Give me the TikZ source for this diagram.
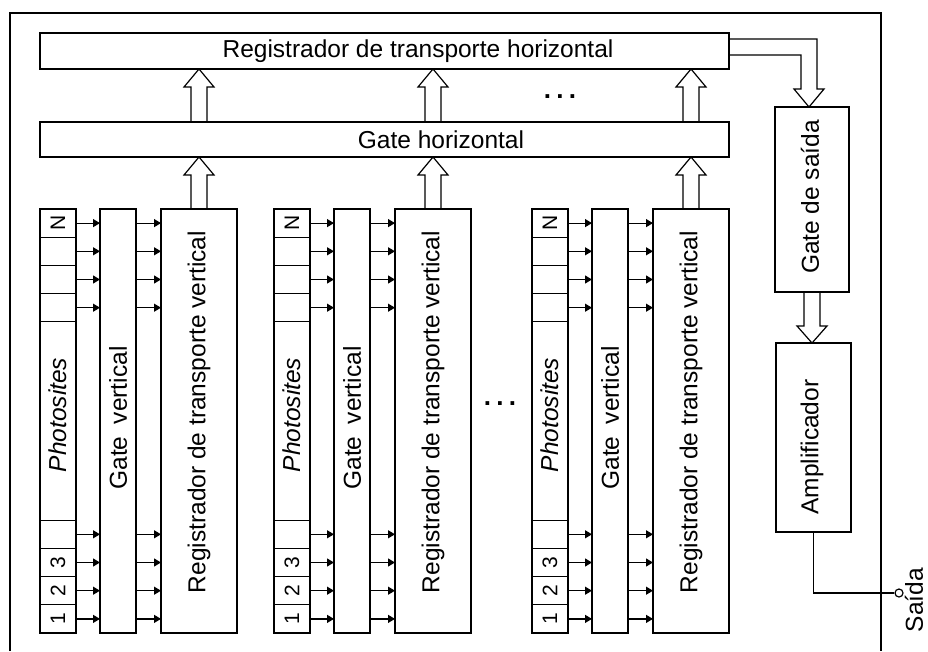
\documentclass[tikz,border=0pt]{standalone}
\usepackage{fontspec}
\setmainfont{Liberation Sans}
\usetikzlibrary{arrows.meta,calc}
\newcommand\bx[5]{\node[boxst,minimum width={((#4)-(#2))*1pt},minimum height={((#5)-(#3))*1pt}] (#1) at ({((#2)+(#4))/2},{((#3)+(#5))/2}) {};}
\newcommand\hup[2]{\draw[hol] ($(#1)+(-8,0)$) -- ($(#2)+(-8,18)$) -- ($(#2)+(-15,18)$) -- (#2) -- ($(#2)+(15,18)$) -- ($(#2)+(8,18)$) -- ($(#1)+(8,0)$);}
\newcommand\hdown[2]{\draw[hol] ($(#1)+(-8,0)$) -- ($(#2)+(-8,-17)$) -- ($(#2)+(-15,-17)$) -- (#2) -- ($(#2)+(15,-17)$) -- ($(#2)+(8,-17)$) -- ($(#1)+(8,0)$);}
\newcommand\tdots{\textbf{.\hspace{5.3pt}.\hspace{5.3pt}.}}
\begin{document}
\begin{tikzpicture}[x=1pt,y=-1pt,
  boxst/.style={draw,line width=1.2pt,inner sep=0pt,outer sep=0pt},
  vt/.style={rotate=90,font=\fontsize{24.5}{26}\selectfont,inner sep=0pt},
  ht/.style={font=\fontsize{24.5}{26}\selectfont,inner sep=0pt},
  ct/.style={rotate=90,font=\fontsize{21}{23}\selectfont,inner sep=0pt},
  sarr/.style={-{Triangle[length=7pt,width=8pt]},line width=1.2pt},
  hol/.style={line width=1.2pt,line join=miter},
  dotst/.style={font=\fontsize{26}{28}\selectfont,inner sep=0pt}]
\useasboundingbox (0,0) rectangle (928,651);
% outer frame
\draw[line width=1.2pt] (10,651) -- (10,13) -- (881,13) -- (881,651);
% horizontal registers
\bx{reg}{40}{33}{729}{69}
\bx{gh}{40}{122}{729}{157}
\node[ht] (regt) at (418,51) {Registrador de transporte horizontal};
\node[ht] (ght) at (441,140) {Gate horizontal};
\node[dotst] (dtop) at (560,97) {\tdots};
% columns
\foreach \c/\o in {1/0,2/234,3/492}{
  \bx{gv\c}{100+\o}{209}{136+\o}{633}
  \bx{rv\c}{161+\o}{209}{237+\o}{633}
  \bx{ph\c-L}{40+\o}{321.8}{76+\o}{520.2}
  \foreach \k in {0,1,2,3}{
    \bx{ph\c-t\k}{40+\o}{209+28.2*\k}{76+\o}{237.2+28.2*\k}
    \bx{ph\c-b\k}{40+\o}{520.2+28.2*\k}{76+\o}{548.4+28.2*\k}
    \draw[sarr] (ph\c-t\k.east) -- (ph\c-t\k.east -| gv\c.west);
    \draw[sarr] (ph\c-t\k.east -| gv\c.east) -- (ph\c-t\k.east -| rv\c.west);
    \draw[sarr] (ph\c-b\k.east) -- (ph\c-b\k.east -| gv\c.west);
    \draw[sarr] (ph\c-b\k.east -| gv\c.east) -- (ph\c-b\k.east -| rv\c.west);
  }
  \node[ct] (lN\c) at (ph\c-t0) {N};
  \node[ct] (l3\c) at (ph\c-b1) {3};
  \node[ct] (l2\c) at (ph\c-b2) {2};
  \node[ct] (l1\c) at (ph\c-b3) {1};
  \node[vt] (tph\c) at ($(ph\c-L.center)+(0,-6)$) {\itshape Photosites};
  \node[vt] (tgv\c) at ($(gv\c.center)+(0,-3)$) {Gate\hspace{0.5em}vertical};
  \node[vt] (trv\c) at ($(rv\c.center)+(0,-9)$) {Registrador de transporte vertical};
  \coordinate (a\c) at (gh.south -| rv\c.north);
  \hup{rv\c.north}{a\c}
  \coordinate (b\c) at (gh.north -| rv\c.north);
  \coordinate (d\c) at (reg.south -| rv\c.north);
  \hup{b\c}{d\c}
}
\node[dotst] (dmid) at (500,404) {\tdots};
% output chain
\bx{gs}{775}{107}{849}{292}
\bx{amp}{776}{343}{851}{532}
\node[vt] (gst) at (810,197) {Gate de saída};
\node[vt] (ampt) at (812,447) {Amplificador};
\coordinate (e1) at ($(reg.north east)+(0,6)$);
\coordinate (e2) at ($(reg.north east)+(0,22)$);
\coordinate (gtip) at ($(gs.north)+(-3,0)$);
\coordinate (gR) at ($(gtip)+(8,-18)$);
\coordinate (gL) at ($(gtip)+(-8,-18)$);
\draw[hol] (e1) -| (gR) -- ++(7,0) -- (gtip) -- ($(gL)+(-7,0)$) -- (gL) |- (e2);
\coordinate (atip) at (amp.north -| gs.south);
\hdown{gs.south}{atip}
\node[circle,draw,line width=1.2pt,minimum size=8pt,inner sep=0pt] (out) at (899,593) {};
\draw[line width=1.2pt] (amp.south) |- (out.west);
\node[vt] (saida) at (914,600) {Saída};
\end{tikzpicture}
\end{document}
